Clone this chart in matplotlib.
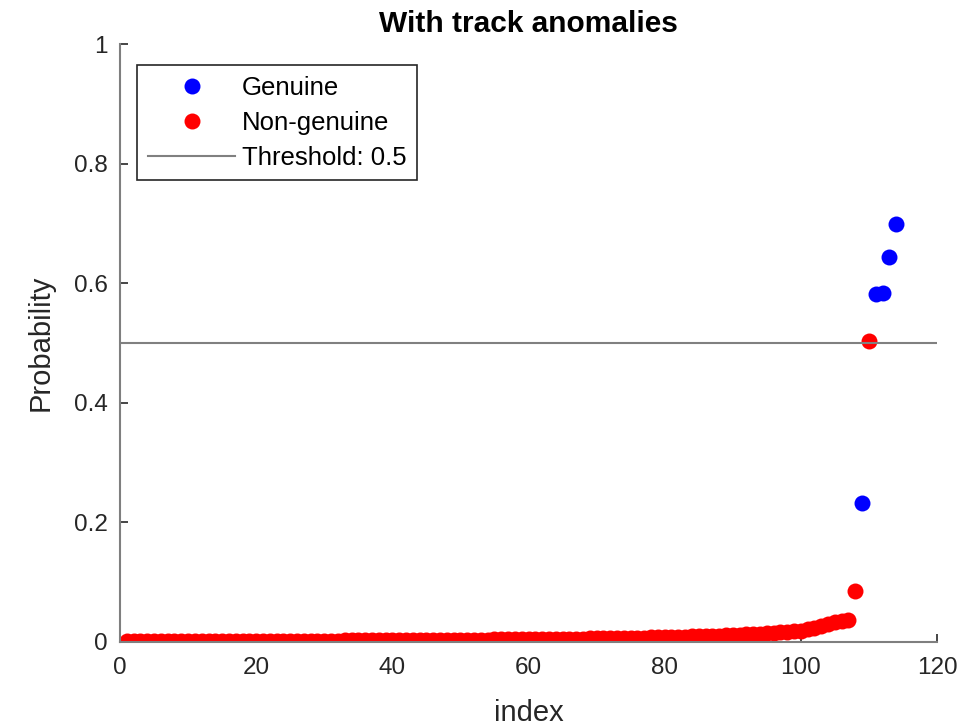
import numpy as np
import matplotlib.pyplot as plt

plt.rcParams['font.family'] = ['Liberation Sans', 'DejaVu Sans']

# sorted scores, non-genuine tracks (index 1..108 and 110)
nongen_p = [
    0.0008, 0.0009, 0.0010, 0.0010, 0.0011, 0.0011, 0.0012, 0.0012, 0.0013, 0.0013,
    0.0014, 0.0014, 0.0015, 0.0015, 0.0016, 0.0016, 0.0017, 0.0017, 0.0018, 0.0018,
    0.0019, 0.0019, 0.0020, 0.0020, 0.0021, 0.0021, 0.0022, 0.0022, 0.0023, 0.0023,
    0.0024, 0.0024, 0.0025, 0.0025, 0.0026, 0.0026, 0.0027, 0.0027, 0.0028, 0.0028,
    0.0029, 0.0030, 0.0030, 0.0031, 0.0032, 0.0032, 0.0033, 0.0034, 0.0035, 0.0036,
    0.0037, 0.0038, 0.0039, 0.0040, 0.0041, 0.0042, 0.0043, 0.0044, 0.0045, 0.0046,
    0.0047, 0.0048, 0.0049, 0.0050, 0.0052, 0.0053, 0.0055, 0.0056, 0.0058, 0.0059,
    0.0061, 0.0063, 0.0065, 0.0067, 0.0069, 0.0071, 0.0073, 0.0075, 0.0077, 0.0080,
    0.0083, 0.0086, 0.0089, 0.0092, 0.0095, 0.0099, 0.0103, 0.0107, 0.0111, 0.0116,
    0.0121, 0.0126, 0.0132, 0.0138, 0.0145, 0.0152, 0.0160, 0.0168, 0.0177, 0.0190,
    0.0210, 0.0240, 0.0270, 0.0300, 0.0330, 0.0350, 0.0365, 0.0850,
    0.5040,
]
nongen_idx = list(range(1, 109)) + [110]

# genuine tracks
gen_idx = [109, 111, 112, 113, 114]
gen_p = [0.232, 0.583, 0.584, 0.644, 0.699]

threshold = 0.5

fig = plt.figure(figsize=(9.79, 7.27), dpi=100)
ax = fig.add_axes([0.1226, 0.117, 0.8345, 0.822])

ax.plot(gen_idx, gen_p, 'o', color='#0000ff', ms=11.5, mec='none', label='Genuine')
ax.plot(nongen_idx, nongen_p, 'o', color='#ff0000', ms=11.5, mec='none', label='Non-genuine')
ax.plot([0, 120], [threshold, threshold], '-', color='#808080', lw=1.5,
        label='Threshold: %.1f' % threshold)

ax.set_xlim(0, 120)
ax.set_ylim(0, 1)
ax.set_xticks(np.arange(0, 121, 20))
ax.set_yticks([0, 0.2, 0.4, 0.6, 0.8, 1])
ax.set_yticklabels(['0', '0.2', '0.4', '0.6', '0.8', '1'])

for s in ['top', 'right']:
    ax.spines[s].set_visible(False)
for s in ['left', 'bottom']:
    ax.spines[s].set_color('#7f7f7f')
    ax.spines[s].set_linewidth(1.5)
ax.tick_params(direction='in', length=6, width=1.2, color='#262626',
               labelcolor='#262626', labelsize=17.5, pad=9)
ax.tick_params(axis='x', pad=11)

ax.set_xlabel('index', fontsize=21, color='#262626', labelpad=14)
ax.set_ylabel('Probability', fontsize=21, color='#262626', labelpad=14)
ax.set_title('With track anomalies', fontsize=21.5, fontweight='bold', pad=9)

leg = ax.legend(loc='upper left', bbox_to_anchor=(0.021, 0.965), fontsize=18.5,
                fancybox=False, edgecolor='#262626', framealpha=1,
                handlelength=3.4, borderpad=0.42, labelspacing=0.42,
                handletextpad=0.25, borderaxespad=0)
leg.get_frame().set_linewidth(1.2)

fig.savefig('out.png', dpi=100)
